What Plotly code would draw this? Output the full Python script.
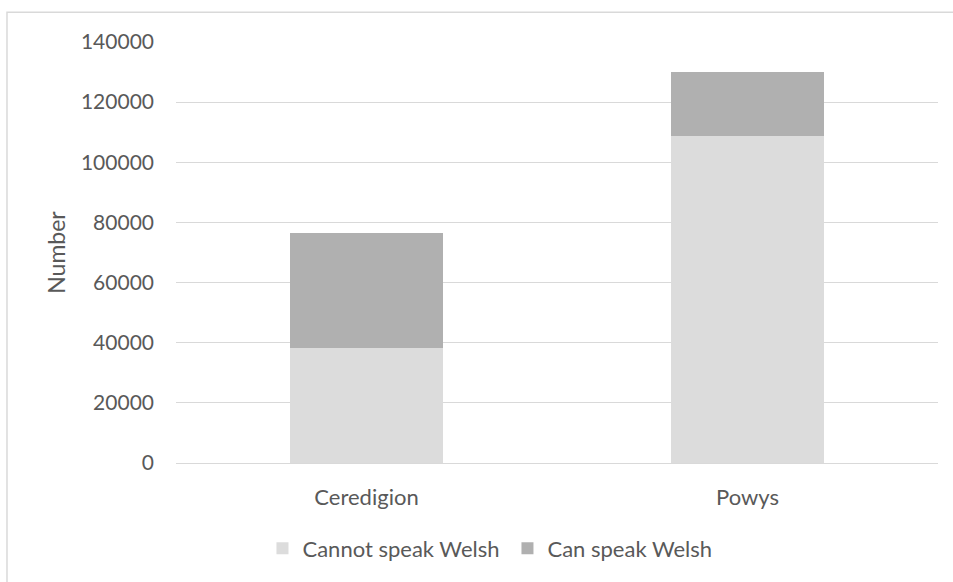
import plotly.graph_objects as go

areas = ["Ceredigion", "Powys"]
cannot_speak = [38400, 108700]
can_speak = [38000, 21300]
series_names = ["Cannot speak Welsh", "Can speak Welsh"]
y_ticks = [0, 20000, 40000, 60000, 80000, 100000, 120000, 140000]

TEXT = "#595959"
GRID = "#d9d9d9"
FONT = "Lato, 'Open Sans', sans-serif"
FS = 22

fig = go.Figure()
fig.add_trace(go.Bar(x=areas, y=cannot_speak, name=series_names[0],
                     marker=dict(color="#dcdcdc", line=dict(width=0))))
fig.add_trace(go.Bar(x=areas, y=can_speak, name=series_names[1],
                     marker=dict(color="#b0b0b0", line=dict(width=0))))

fig.update_layout(
    barmode="stack",
    bargap=0.6,
    width=953, height=582,
    margin=dict(l=176, r=15, t=42, b=116),
    paper_bgcolor="white", plot_bgcolor="white",
    font=dict(family=FONT, size=FS, color=TEXT),
    legend=dict(orientation="h", x=0.435, xanchor="center", y=-0.203, yanchor="middle",
                font=dict(size=FS, color=TEXT), itemwidth=30, traceorder="normal",
                entrywidth=200),
    xaxis=dict(showgrid=False, showline=False, ticks="", tickfont=dict(size=FS, color=TEXT),
               ticklabelstandoff=19),
    yaxis=dict(range=[0, 140000], tickvals=y_ticks, tickformat="d",
               showgrid=True, gridcolor=GRID,
               gridwidth=1, zeroline=True, zerolinecolor=GRID, zerolinewidth=1,
               showline=False, ticks="", tickfont=dict(size=21, color=TEXT),
               ticklabelstandoff=21,
               title=dict(text="Number", font=dict(size=23, color=TEXT), standoff=8)),
    shapes=[dict(type="rect", xref="paper", yref="paper",
                 x0=-0.2218, x1=1.05, y0=-0.5, y1=1.0709,
                 line=dict(color=GRID, width=1.5), layer="below")],
)

fig.write_html("out.html")
